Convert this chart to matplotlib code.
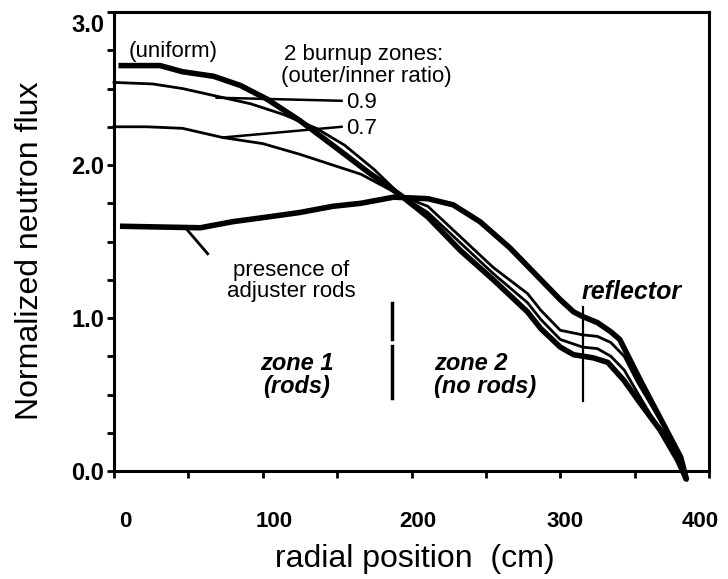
##################################################################################
### IMPORT STATEMENTS
##################################################################################
import numpy as np
import matplotlib
matplotlib.use('Agg')
from matplotlib import pyplot as plt
from matplotlib.transforms import ScaledTranslation

plt.rcParams['font.family'] = ['Liberation Sans', 'DejaVu Sans']

##################################################################################
### DATA
##################################################################################
# radial position (cm) / normalized flux, one pair of lists per curve
uniform_r = [3, 31, 46, 67, 85, 103, 125, 147, 170, 193,
             211, 233, 255, 278, 287, 300, 309, 322, 332, 343, 354, 367, 379, 385]
uniform_f = [2.65, 2.65, 2.61, 2.58, 2.52, 2.43, 2.29, 2.13, 1.96, 1.80,
             1.66, 1.44, 1.25, 1.04, 0.93, 0.81, 0.76, 0.74, 0.71, 0.59, 0.44, 0.27, 0.07, -0.06]

ratio09_r = [0, 26, 46, 69, 92, 114, 136, 155, 175, 193,
             211, 233, 255, 278, 287, 300, 315, 325, 334, 343, 352, 363, 374, 385]
ratio09_f = [2.54, 2.53, 2.50, 2.45, 2.40, 2.33, 2.24, 2.13, 1.97, 1.80,
             1.69, 1.49, 1.29, 1.10, 0.99, 0.86, 0.81, 0.80, 0.75, 0.66, 0.51, 0.33, 0.20, -0.06]

ratio07_r = [0, 22, 46, 73, 100, 125, 147, 166, 193,
             211, 233, 255, 278, 287, 300, 315, 325, 334, 343, 352, 363, 374, 385]
ratio07_f = [2.25, 2.25, 2.24, 2.18, 2.14, 2.07, 2.00, 1.94, 1.80,
             1.73, 1.53, 1.33, 1.16, 1.05, 0.92, 0.89, 0.88, 0.84, 0.75, 0.58, 0.40, 0.22, -0.06]

rods_r = [4, 58, 80, 103, 125, 147, 166, 188,
          211, 228, 246, 266, 285, 300, 309, 315, 325, 334, 340, 354, 367, 381, 385]
rods_f = [1.60, 1.59, 1.63, 1.66, 1.69, 1.73, 1.75, 1.79,
          1.78, 1.74, 1.63, 1.46, 1.27, 1.12, 1.04, 1.01, 0.97, 0.91, 0.86, 0.59, 0.35, 0.09, -0.06]

# zone boundary and reflector edge (cm)
zone_boundary = 187
reflector_edge = 315

x_ticks = [0, 100, 200, 300, 400]
y_ticks = [0.0, 1.0, 2.0, 3.0]

##################################################################################
### PLOT
##################################################################################
fig = plt.figure(figsize=(7.28, 5.79), dpi=100)
ax = fig.add_axes([0.1566, 0.1865, 0.8173, 0.7927])

ax.plot(uniform_r, uniform_f, color='k', lw=4.0, solid_capstyle='butt', clip_on=False)
ax.plot(ratio09_r, ratio09_f, color='k', lw=2.0, clip_on=False)
ax.plot(ratio07_r, ratio07_f, color='k', lw=2.0, clip_on=False)
ax.plot(rods_r, rods_f, color='k', lw=4.0, solid_capstyle='butt', clip_on=False)

# leader lines for the labels
ax.plot([69, 153], [2.44, 2.42], color='k', lw=1.8)
ax.plot([73, 153], [2.18, 2.25], color='k', lw=1.8)
ax.plot([48, 63], [1.59, 1.42], color='k', lw=2.0)

# zone 1 / zone 2 divider (broken) and reflector marker
ax.plot([zone_boundary, zone_boundary], [1.10, 0.86], color='k', lw=2.5)
ax.plot([zone_boundary, zone_boundary], [0.82, 0.48], color='k', lw=2.5)
ax.plot([reflector_edge, reflector_edge], [1.07, 0.46], color='k', lw=1.6)

# annotations
ax.text(40, 2.74, '(uniform)', fontsize=16, ha='center', va='center')
ax.text(114, 2.72, '2 burnup zones:', fontsize=16, ha='left', va='center')
ax.text(112, 2.58, '(outer/inner ratio)', fontsize=16, ha='left', va='center')
ax.text(156, 2.41, '0.9', fontsize=16, ha='left', va='center')
ax.text(156, 2.24, '0.7', fontsize=16, ha='left', va='center')
ax.text(119, 1.245, 'presence of\nadjuster rods', fontsize=16, ha='center', va='center',
        linespacing=1.0)
ax.text(123, 0.625, 'zone 1\n(rods)', fontsize=17, ha='center', va='center',
        fontweight='bold', style='italic', linespacing=1.0)
ax.text(215, 0.625, 'zone 2\n(no rods)', fontsize=17, ha='left', va='center',
        fontweight='bold', style='italic', linespacing=1.0)
ax.text(348, 1.17, 'reflector', fontsize=18, ha='center', va='center',
        fontweight='bold', style='italic')

##################################################################################
### AXES
##################################################################################
ax.set_xlim(0, 400)
ax.set_ylim(0, 3)
ax.set_xticks(x_ticks)
ax.set_xticks(np.arange(0, 401, 50), minor=True)
ax.set_yticks(y_ticks)
ax.set_yticks(np.arange(0, 3.01, 0.25), minor=True)
ax.set_xticklabels([str(t) for t in x_ticks], fontsize=16, fontweight='bold')
ax.set_yticklabels(['%.1f' % t for t in y_ticks], fontsize=17, fontweight='bold')
ax.tick_params(axis='both', which='both', direction='out', length=5, width=2, color='k')
ax.tick_params(axis='x', which='both', pad=24)
ax.tick_params(axis='y', which='both', pad=2)

for s in ax.spines.values():
    s.set_linewidth(2.2)

# the original labels sit a little off their ticks
x_shift = [0.11, 0.11, 0.06, 0.05, -0.09]
for lab, dx in zip(ax.get_xticklabels(), x_shift):
    lab.set_transform(lab.get_transform() + ScaledTranslation(dx, 0, fig.dpi_scale_trans))
top_lab = ax.get_yticklabels()[-1]
top_lab.set_transform(top_lab.get_transform() + ScaledTranslation(0, -0.11, fig.dpi_scale_trans))

ax.set_xlabel('radial position  (cm)', fontsize=23)
ax.xaxis.set_label_coords(0.506, -0.16)
ax.set_ylabel('Normalized neutron flux', fontsize=23)
ax.yaxis.set_label_coords(-0.116, 0.48)

fig.savefig('out.png', dpi=100, facecolor='white')
